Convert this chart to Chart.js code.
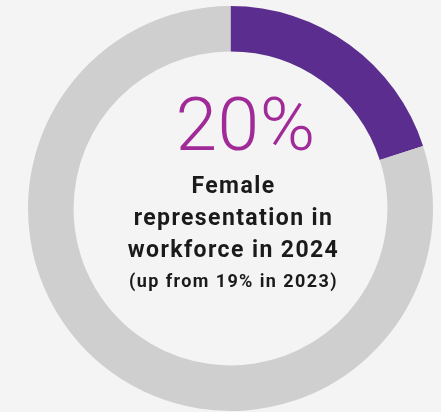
<!DOCTYPE html>
<html>
<head>
<meta charset="utf-8">
<script src="https://cdn.jsdelivr.net/npm/chart.js@4/dist/chart.umd.min.js"></script>
<style>
  html, body { margin: 0; padding: 0; background: #f4f4f4; }
  #wrap { position: relative; width: 441px; height: 412px; overflow: hidden; }
  canvas { display: block; }
  .center { position: absolute; left: 0; width: 441px; text-align: center; white-space: nowrap; }
  #pct { top: 84px; left: 25px; font-family: Roboto, "Open Sans", sans-serif; font-weight: 300; font-size: 75px; line-height: 80px; color: #a02a98; letter-spacing: 0.5px; }
  #caption { top: 170px; left: 13px; font-family: Roboto, "Open Sans", sans-serif; font-weight: 700; font-size: 23px; line-height: 32px; color: #1a1a1a; letter-spacing: 1.4px; }
  #sub { top: 269px; left: 13px; font-family: Roboto, "Open Sans", sans-serif; font-weight: 700; font-size: 18px; line-height: 24px; color: #1a1a1a; letter-spacing: 1.4px; }
</style>
</head>
<body>
<div id="wrap">
  <canvas id="c" width="441" height="412"></canvas>
  <div id="pct" class="center"></div>
  <div id="caption" class="center"></div>
  <div id="sub" class="center"></div>
</div>
<script>
// Workforce split for 2024
const categories = ["Female", "Male"];
const shares = [20, 80];
const sliceColors = ["#5b2d8e", "#cfcfcf"];
const headline = "20%";
const captionLines = ["Female", "representation in", "workforce in 2024"];
const note = "(up from 19% in 2023)";

document.getElementById("pct").textContent = headline;
document.getElementById("caption").innerHTML = captionLines.join("<br>");
document.getElementById("sub").textContent = note;

new Chart(document.getElementById("c"), {
  type: "doughnut",
  data: {
    labels: categories,
    datasets: [{
      data: shares,
      backgroundColor: sliceColors,
      borderWidth: 0,
      hoverOffset: 0
    }]
  },
  options: {
    responsive: false,
    animation: false,
    cutout: "77.5%",
    layout: { padding: { left: 28, right: 8, top: 6, bottom: 1 } },
    plugins: {
      legend: { display: false },
      tooltip: { enabled: false }
    }
  }
});
</script>
</body>
</html>
